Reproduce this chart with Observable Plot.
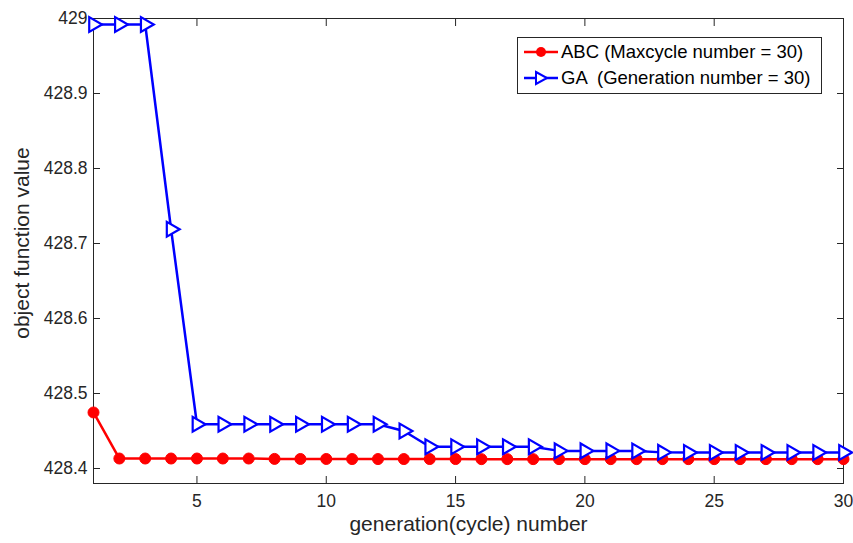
<!DOCTYPE html>
<html>
<head>
<meta charset="utf-8">
<script src="https://cdn.jsdelivr.net/npm/d3@7"></script>
<script src="https://cdn.jsdelivr.net/npm/@observablehq/plot@0.6"></script>
<style>
  html, body { margin: 0; padding: 0; background: #fff; }
  #wrap { position: relative; width: 853px; height: 543px; font-family: Arial, "Liberation Sans", sans-serif; }
  #legend { position: absolute; left: 517px; top: 37px; width: 305px; height: 57px; border: 1px solid #262626; background: #fff; box-sizing: border-box; }
  .row { position: absolute; left: 5px; height: 24px; display: flex; align-items: center; font-size: 18.5px; color: #000; white-space: pre; }
  .row svg { margin-right: 2px; }
</style>
</head>
<body>
<div id="wrap"></div>
<script>
const cycles = d3.range(1, 31);
const abcValues = [428.4747, 428.4133, 428.4133, 428.4133, 428.4133, 428.4133, 428.4133, 428.4128, 428.4127, 428.4127,
  428.4126, 428.4126, 428.4126, 428.4126, 428.4126, 428.4125, 428.4125, 428.4125, 428.4125, 428.4125,
  428.4125, 428.4125, 428.4125, 428.4125, 428.4125, 428.4125, 428.4125, 428.4125, 428.4125, 428.4125];
const gaValues = [428.992, 428.992, 428.992, 428.719, 428.459, 428.459, 428.459, 428.459, 428.459, 428.459,
  428.459, 428.459, 428.450, 428.429, 428.429, 428.429, 428.429, 428.429, 428.4235, 428.4235,
  428.4235, 428.4233, 428.4215, 428.4213, 428.4213, 428.4213, 428.4213, 428.4213, 428.4213, 428.4213];
const xTicks = [5, 10, 15, 20, 25, 30];
const yTicks = [428.4, 428.5, 428.6, 428.7, 428.8, 428.9, 429];
const seriesNames = ["ABC (Maxcycle number = 30)", "GA  (Generation number = 30)"];
const xLabel = "generation(cycle) number";
const yLabel = "object function value";

const abc = cycles.map((c, i) => ({x: c, y: abcValues[i]}));
const ga = cycles.map((c, i) => ({x: c, y: gaValues[i]}));
const fmt = d => String(+d.toFixed(1));
const ink = "#262626";

const chart = Plot.plot({
  width: 853,
  height: 543,
  marginLeft: 93,
  marginRight: 10,
  marginTop: 18,
  marginBottom: 60,
  style: {fontFamily: "Arial, 'Liberation Sans', sans-serif", color: ink, background: "#fff"},
  x: {domain: [1, 30]},
  y: {domain: [428.38, 429]},
  marks: [
    Plot.frame({stroke: ink, strokeWidth: 1}),
    Plot.axisX({anchor: "bottom", ticks: xTicks, tickSize: 0, tickPadding: 11, tickFormat: d => d, fontSize: 17.5, fill: ink, label: null}),
    Plot.axisX({anchor: "bottom", ticks: xTicks, tickSize: 7, dy: -7, text: null, stroke: ink, label: null}),
    Plot.axisX({anchor: "top", ticks: xTicks, tickSize: 7, dy: 7, text: null, stroke: ink, label: null}),
    Plot.axisY({anchor: "left", ticks: yTicks, tickSize: 0, tickPadding: 6, tickFormat: fmt, fontSize: 17.5, fill: ink, label: null}),
    Plot.axisY({anchor: "left", ticks: yTicks, tickSize: 7, dx: 7, text: null, stroke: ink, label: null}),
    Plot.axisY({anchor: "right", ticks: yTicks, tickSize: 7, dx: -7, text: null, stroke: ink, label: null}),
    Plot.text([xLabel], {frameAnchor: "bottom", lineAnchor: "middle", textAnchor: "middle", dy: 41, fontSize: 21, fill: ink}),
    Plot.text([yLabel], {frameAnchor: "left", lineAnchor: "middle", textAnchor: "middle", dx: -71, dy: -8, rotate: -90, fontSize: 21, fill: ink}),
    Plot.line(abc, {x: "x", y: "y", stroke: "#ff0000", strokeWidth: 2.5}),
    Plot.dot(abc, {x: "x", y: "y", r: 5.5, fill: "#ff0000", stroke: "#ff0000", strokeWidth: 1}),
    Plot.line(ga, {x: "x", y: "y", stroke: "#0000ff", strokeWidth: 2.5}),
    Plot.dot(ga, {x: "x", y: "y", symbol: "triangle", rotate: 90, r: 5.5, stroke: "#0000ff", strokeWidth: 2.2, fill: "#fff"})
  ]
});

const wrap = document.getElementById("wrap");
wrap.appendChild(chart);

const legend = document.createElement("div");
legend.id = "legend";
legend.innerHTML = `
  <div class="row" style="top:2px"><svg width="36" height="14"><line x1="1" y1="7" x2="35" y2="7" stroke="#ff0000" stroke-width="2.5"/><circle cx="18" cy="7" r="5" fill="#ff0000"/></svg>${seriesNames[0]}</div>
  <div class="row" style="top:28px"><svg width="36" height="16"><line x1="1" y1="8" x2="35" y2="8" stroke="#0000ff" stroke-width="2.5"/><path d="M13,2 L24,8 L13,14 Z" fill="#fff" stroke="#0000ff" stroke-width="2"/></svg>${seriesNames[1]}</div>`;
wrap.appendChild(legend);
</script>
</body>
</html>
